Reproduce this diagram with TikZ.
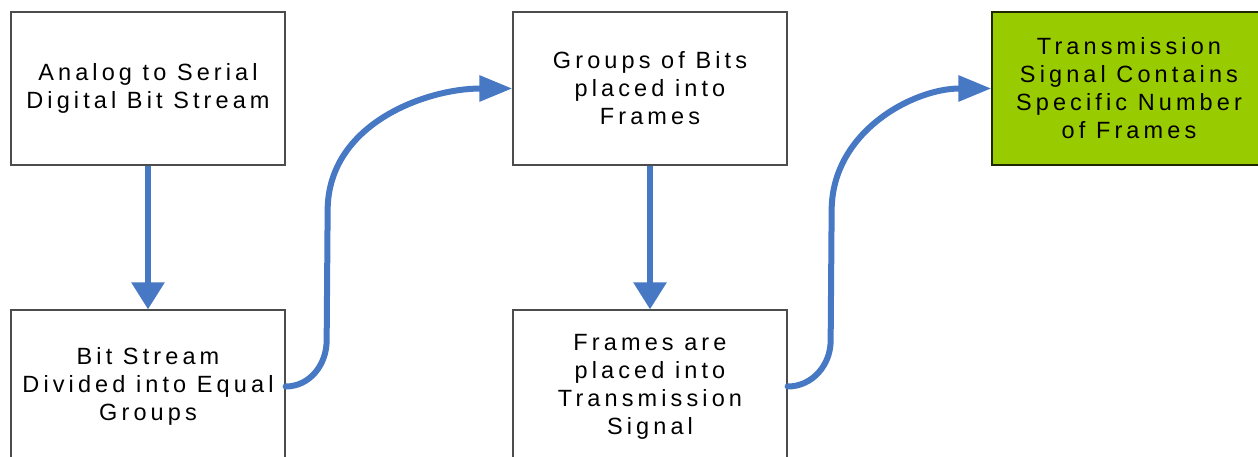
\documentclass[tikz,border=0pt]{standalone}
\usepackage{fontspec}
\setmainfont{Liberation Sans}[LetterSpace=17.5]
\usetikzlibrary{positioning,arrows.meta}
\definecolor{flowblue}{RGB}{70,120,195}
\definecolor{signalgreen}{RGB}{153,204,0}
\tikzset{
  stage/.style  = {rectangle,draw=black!70,line width=1.3pt,minimum width=274pt,
                   minimum height=153pt,align=center,inner sep=0pt,
                   font=\fontsize{23.5}{28}\selectfont},
  final/.style  = {stage,fill=signalgreen,draw=black!80!signalgreen},
  flow/.style   = {draw=flowblue,line width=6pt,line cap=round,
                   -{Triangle[length=33pt,width=25pt]}},
  down/.style   = {flow,line cap=butt,-{Triangle[length=27pt,width=32pt]}}
}
\begin{document}
\begin{tikzpicture}[x=1pt,y=1pt]
    \useasboundingbox (0,0) rectangle (1258,457);
    \clip (0,0) rectangle (1258,457);

    % top row
    \node[stage] (analog) at (148,368.5) {Analog to Serial\\Digital Bit Stream};
    \node[stage] (groups) at (650,368.5) {Groups of Bits\\placed into\\Frames};
    \node[final] (signal) at (1129,368.5) {Transmission\\Signal Contains\\Specific Number\\of Frames};

    % bottom row
    \node[stage] (divide) at (148,70.5) {Bit Stream\\Divided into Equal\\Groups};
    \node[stage] (frames) at (650,70.5) {Frames are\\placed into\\Transmission\\Signal};

    \draw[down] (analog) -- (divide);
    \draw[down] (groups) -- (frames);

    \draw[flow] (divide.east) to[out=0,in=-90] ++(41,46) -- ++(1,130)
                to[out=90,in=180] (groups.west);
    \draw[flow] (frames.east) to[out=0,in=-90] ++(43,46) -- ++(1,130)
                to[out=90,in=180] (signal.west);
\end{tikzpicture}
\end{document}
